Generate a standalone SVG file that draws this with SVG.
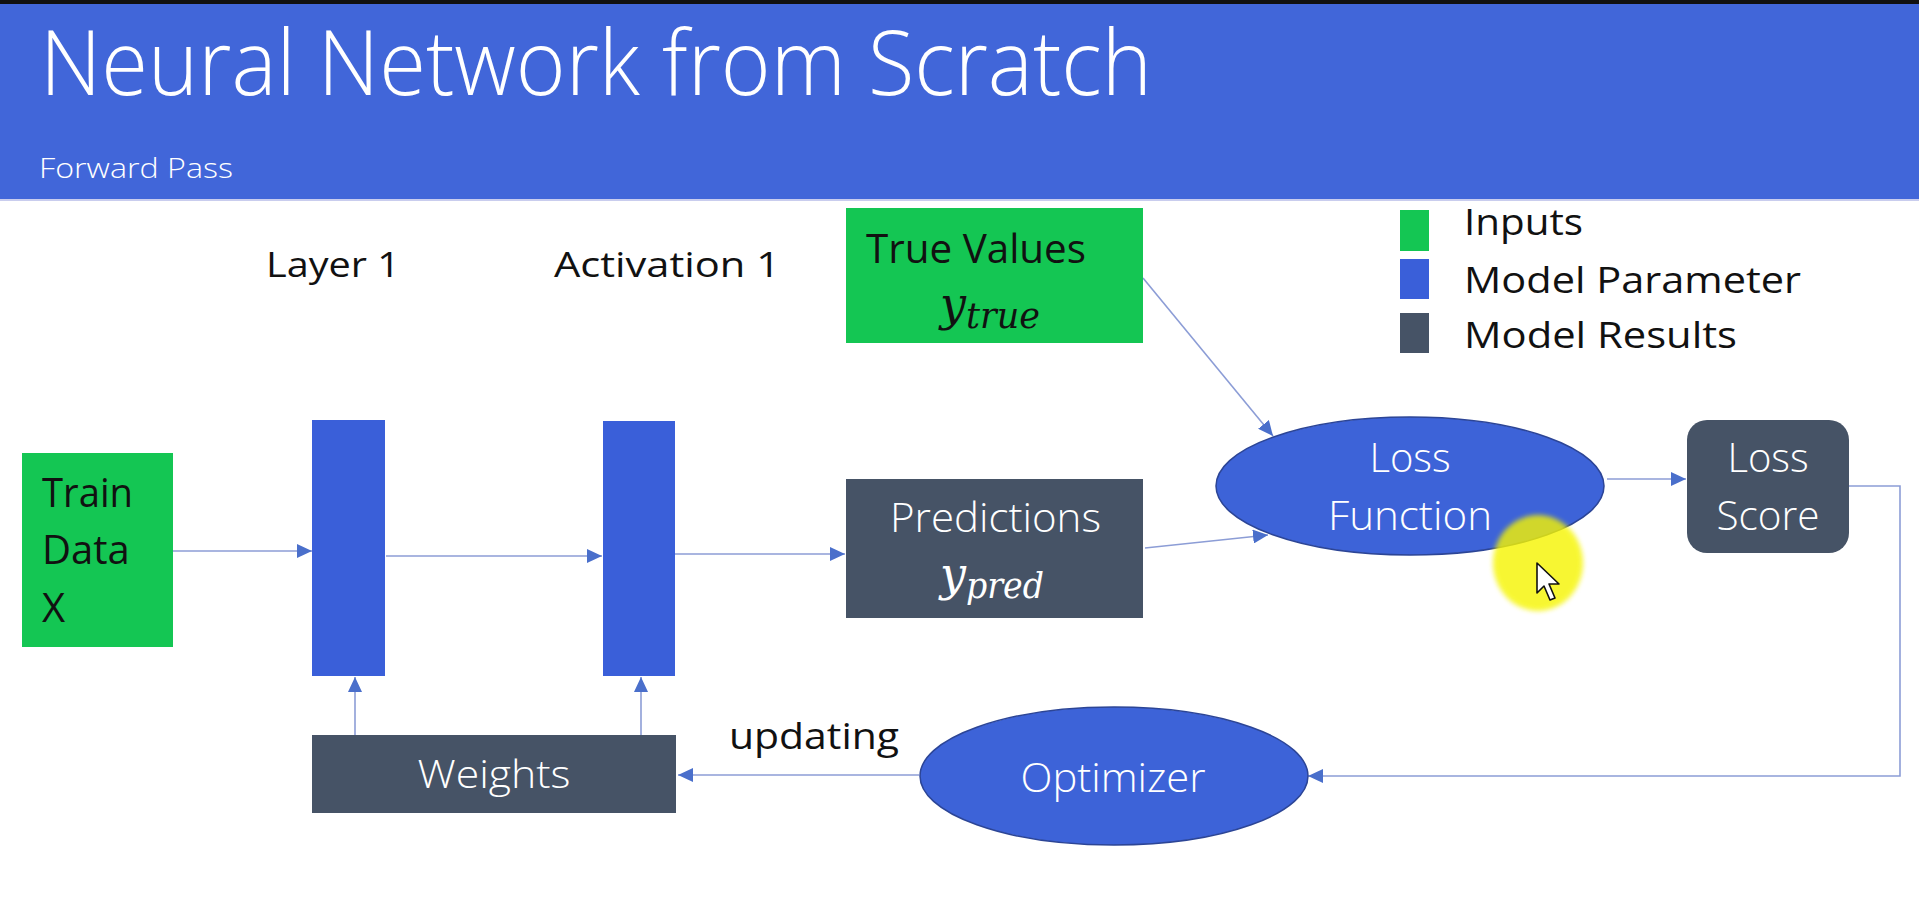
<svg xmlns="http://www.w3.org/2000/svg" width="1919" height="917" viewBox="0 0 1919 917">
  <style>
    .ui { font-family: "Open Sans", "Liberation Sans", sans-serif; }
    .dark { fill: #111111; }
    .light { fill: #ffffff; }
    .math { font-family: "DejaVu Serif", "Liberation Serif", serif; font-style: italic; }
    .input { fill: #14c653; }
    .param { fill: #3a5fd9; }
    .result { fill: #465366; }
    .oval { fill: #3d63d8; stroke: #2c4596; stroke-width: 1.5; }
    .link { fill: none; stroke: #8c9dd6; stroke-width: 1.6; marker-end: url(#tip); }
  </style>
  <defs>
    <marker id="tip" markerUnits="userSpaceOnUse" markerWidth="16" markerHeight="14" refX="15" refY="7" orient="auto">
      <path d="M0,0 L15,7 L0,14 z" fill="#4a6fcb"/>
    </marker>
    <filter id="soft" x="-30%" y="-30%" width="160%" height="160%">
      <feGaussianBlur stdDeviation="2.5"/>
    </filter>
  </defs>

  <!-- background and header band -->
  <rect x="0" y="0" width="1919" height="917" fill="#ffffff"/>
  <rect x="0" y="0" width="1919" height="4" fill="#111111"/>
  <rect x="0" y="4" width="1919" height="195" fill="#4166d9"/>
  <rect x="0" y="199" width="1919" height="2" fill="#c9cdee"/>
  <text class="ui light" x="40" y="95" font-size="90" font-weight="300" textLength="1112" lengthAdjust="spacingAndGlyphs">Neural Network from Scratch</text>
  <text class="ui light" x="39" y="178" font-size="27" font-weight="300" textLength="194" lengthAdjust="spacingAndGlyphs">Forward Pass</text>

  <!-- column labels -->
  <text class="ui dark" x="266" y="277" font-size="35" textLength="134" lengthAdjust="spacingAndGlyphs">Layer 1</text>
  <text class="ui dark" x="554" y="277" font-size="35" textLength="226" lengthAdjust="spacingAndGlyphs">Activation 1</text>

  <!-- legend -->
  <g id="legend">
    <rect class="input" x="1400" y="210" width="29" height="41"/>
    <rect class="param" x="1400" y="259" width="29" height="40"/>
    <rect class="result" x="1400" y="313" width="29" height="40"/>
    <text class="ui dark" x="1464" y="235" font-size="36" textLength="119" lengthAdjust="spacingAndGlyphs">Inputs</text>
    <text class="ui dark" x="1464" y="293" font-size="36" textLength="337" lengthAdjust="spacingAndGlyphs">Model Parameter</text>
    <text class="ui dark" x="1464" y="348" font-size="36" textLength="273" lengthAdjust="spacingAndGlyphs">Model Results</text>
  </g>

  <!-- connectors -->
  <g id="connectors">
    <path class="link" d="M173,551 H312"/>
    <path class="link" d="M386,556 H602"/>
    <path class="link" d="M675,554 H845"/>
    <path class="link" d="M1143,278 L1273,436"/>
    <path class="link" d="M1145,548 L1268,535"/>
    <path class="link" d="M1607,479 H1686"/>
    <path class="link" d="M1849,486 H1900 V776 H1308"/>
    <path class="link" d="M919,775 H678"/>
    <path class="link" d="M355,735 V677"/>
    <path class="link" d="M641,735 V677"/>
  </g>

  <g id="train-data">
    <rect class="input" x="22" y="453" width="151" height="194"/>
    <text class="ui dark" font-size="40">
      <tspan x="42" y="507" textLength="91" lengthAdjust="spacingAndGlyphs">Train</tspan>
      <tspan x="42" y="564">Data</tspan>
      <tspan x="42" y="622">X</tspan>
    </text>
  </g>

  <g id="layer-1">
    <rect class="param" x="312" y="420" width="73" height="256"/>
  </g>

  <g id="activation-1">
    <rect class="param" x="603" y="421" width="72" height="255"/>
  </g>

  <g id="true-values">
    <rect class="input" x="846" y="208" width="297" height="135"/>
    <text class="ui dark" x="866" y="263" font-size="41" textLength="220" lengthAdjust="spacingAndGlyphs">True Values</text>
    <text class="math dark" x="940" y="320" font-size="46">y<tspan font-size="35" dy="8" textLength="74" lengthAdjust="spacingAndGlyphs">true</tspan></text>
  </g>

  <g id="predictions">
    <rect class="result" x="846" y="479" width="297" height="139"/>
    <text class="ui light" x="890" y="532" font-size="41" font-weight="300" textLength="211" lengthAdjust="spacingAndGlyphs">Predictions</text>
    <text class="math light" x="940" y="590" font-size="46">y<tspan font-size="35" dy="8" textLength="78" lengthAdjust="spacingAndGlyphs">pred</tspan></text>
  </g>

  <g id="loss-function">
    <ellipse class="oval" cx="1410" cy="486" rx="194" ry="69"/>
    <text class="ui light" x="1410" y="472" font-size="40" font-weight="300" text-anchor="middle">Loss</text>
    <text class="ui light" x="1410" y="530" font-size="40" font-weight="300" text-anchor="middle" textLength="164" lengthAdjust="spacingAndGlyphs">Function</text>
  </g>

  <g id="loss-score">
    <rect class="result" x="1687" y="420" width="162" height="133" rx="20" ry="20"/>
    <text class="ui light" x="1768" y="472" font-size="40" font-weight="300" text-anchor="middle">Loss</text>
    <text class="ui light" x="1768" y="530" font-size="40" font-weight="300" text-anchor="middle" textLength="103" lengthAdjust="spacingAndGlyphs">Score</text>
  </g>

  <g id="optimizer">
    <ellipse class="oval" cx="1114" cy="776" rx="194" ry="69"/>
    <text class="ui light" x="1113" y="792" font-size="41" font-weight="300" text-anchor="middle" textLength="185" lengthAdjust="spacingAndGlyphs">Optimizer</text>
  </g>

  <g id="weights">
    <rect class="result" x="312" y="735" width="364" height="78"/>
    <text class="ui light" x="494" y="788" font-size="39" font-weight="300" text-anchor="middle" textLength="153" lengthAdjust="spacingAndGlyphs">Weights</text>
  </g>

  <text class="ui dark" x="729" y="749" font-size="37" textLength="170" lengthAdjust="spacingAndGlyphs">updating</text>

  <!-- pointer highlight and cursor -->
  <ellipse cx="1538" cy="563" rx="45" ry="48" fill="#f6f500" opacity="0.8" filter="url(#soft)"/>
  <path d="M1537,563 L1537,593 L1544,586 L1550,600 L1555,598 L1549,584 L1559,584 Z" fill="#ffffff" stroke="#111111" stroke-width="1.6" stroke-linejoin="round"/>
</svg>
